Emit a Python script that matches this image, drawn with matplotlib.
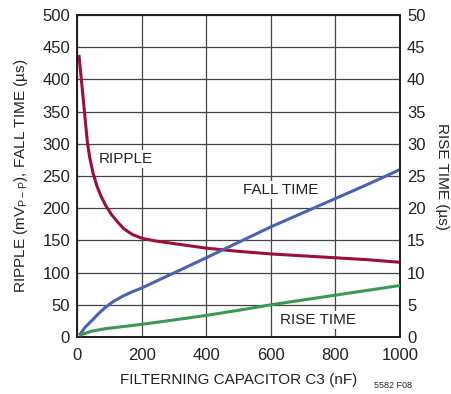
import matplotlib
matplotlib.use("Agg")
import matplotlib.pyplot as plt

plt.rcParams['font.family'] = ['Liberation Sans', 'DejaVu Sans']

# values
ripple_x = [6, 15, 24, 32, 40, 50, 62, 74, 89, 107, 125, 145, 172, 203, 245, 300, 400, 500, 600, 700, 800, 900, 1000]
ripple_y = [438, 392, 345, 303, 277, 254, 234, 219, 204, 190, 179, 168, 159, 153, 149, 145, 138, 133, 129, 126, 123, 120, 116]

fall_x = [7, 25, 47, 68, 88, 112, 140, 170, 200, 255, 328, 400, 500, 600, 700, 800, 900, 1000]
fall_y = [2.6, 15, 26, 37, 46, 55, 63, 70, 76, 89, 106, 123, 147, 171, 193, 215, 237, 260]

rise_x = [7, 47, 88, 200, 328, 400, 500, 600, 700, 800, 900, 1000]
rise_y = [0.26, 0.93, 1.29, 1.96, 2.84, 3.35, 4.15, 5.0, 5.75, 6.5, 7.25, 8.0]

ripple_col = '#9c1035'
fall_col = '#4a62b4'
rise_col = '#3a9a55'
txt_col = '#222222'

fig = plt.figure(figsize=(4.51, 3.94), dpi=100)
ax = fig.add_axes([77/451, 57/394, 323/451, 322/394])
ax2 = ax.twinx()

ax.plot(ripple_x, ripple_y, color=ripple_col, lw=2.2, solid_capstyle='butt', zorder=3)
ax.plot(fall_x, fall_y, color=fall_col, lw=2.2, solid_capstyle='butt', zorder=3)
ax2.plot(rise_x, rise_y, color=rise_col, lw=2.2, solid_capstyle='butt', zorder=3)

ax.set_xlim(0, 1000)
ax.set_ylim(0, 500)
ax2.set_ylim(0, 50)
ax.set_xticks(range(0, 1001, 200))
ax.set_yticks(range(0, 501, 50))
ax2.set_yticks(range(0, 51, 5))

ax.grid(True, color='#444444', lw=0.9)
ax.set_axisbelow(True)
for a in (ax, ax2):
    a.tick_params(length=0, labelsize=12, colors=txt_col)
    for s in a.spines.values():
        s.set_linewidth(1.3)
        s.set_color(txt_col)
ax.tick_params(axis='x', pad=8)
ax.tick_params(axis='y', pad=5)
ax2.tick_params(axis='y', pad=5)

# white boxes behind the curve labels
box = dict(facecolor='white', edgecolor='none', pad=1.5)
ax.text(151, 276, 'RIPPLE', fontsize=11, ha='center', va='center', color=txt_col, bbox=box, zorder=4)
ax.text(632, 228, 'FALL TIME', fontsize=11, ha='center', va='center', color=txt_col, bbox=box, zorder=4)
ax.text(746, 26, 'RISE TIME', fontsize=11, ha='center', va='center', color=txt_col, bbox=box, zorder=4)

ax.set_xlabel('FILTERNING CAPACITOR C3 (nF)', fontsize=11, color=txt_col, labelpad=7)
ax.set_ylabel(r'RIPPLE (mV$_\mathregular{P-P}$), FALL TIME (µs)', fontsize=11, color=txt_col, labelpad=9)
ax2.set_ylabel('RISE TIME (µs)', fontsize=11, color=txt_col, rotation=270, labelpad=17)

fig.text(393/451, 1 - 385/394, '5582 F08', fontsize=6.5, ha='center', va='center', color=txt_col)

fig.savefig('out.png', dpi=100, facecolor='white')
